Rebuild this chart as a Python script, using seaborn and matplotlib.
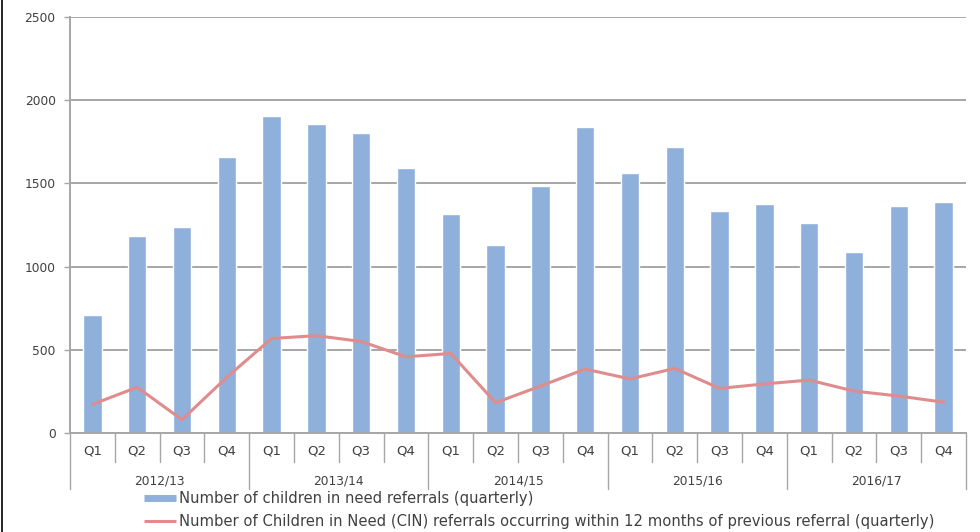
import matplotlib
matplotlib.use("Agg")
import matplotlib.pyplot as plt
import matplotlib.transforms as mtransforms
from matplotlib.lines import Line2D
import seaborn as sns
import pandas as pd

# ---- data ----
years = ["2012/13", "2013/14", "2014/15", "2015/16", "2016/17"]
quarters = ["Q1", "Q2", "Q3", "Q4"]
referrals = [710, 1186, 1235, 1660,
             1906, 1857, 1804, 1590,
             1316, 1130, 1482, 1836,
             1562, 1718, 1334, 1376,
             1262, 1089, 1367, 1390]
re_referrals = [172, 275, 80, 335,
                568, 585, 550, 458,
                478, 182, 282, 384,
                325, 388, 268, 295,
                318, 252, 222, 185]
bar_label = "Number of children in need referrals (quarterly)"
line_label = ("Number of Children in Need (CIN) referrals occurring within 12 months "
              "of previous referral (quarterly)")

n = len(referrals)
df = pd.DataFrame({
    "idx": list(range(n)),
    "quarter": [q for _ in years for q in quarters],
    "referrals": referrals,
    "re_referrals": re_referrals,
})

sns.set_theme(style="white")
plt.rcParams["font.family"] = ["DejaVu Sans"]

W, H = 980, 532
fig = plt.figure(figsize=(W / 100, H / 100), dpi=100)
left, right, top, bottom = 70, 966, 17, 433
ax = fig.add_axes([left / W, 1 - bottom / H, (right - left) / W, (bottom - top) / H])

bar_color = "#8EB0DA"
line_color = "#E08C8C"
grid_color = "#A6A6A6"
text_color = "#404040"

sns.barplot(data=df, x="idx", y="referrals", color=bar_color, width=0.41,
            saturation=1, ax=ax, zorder=2, order=list(range(n)))
sns.lineplot(data=df, x="idx", y="re_referrals", color=line_color, linewidth=2.2,
             ax=ax, zorder=3)

ax.set_xlim(-0.5, n - 0.5)
ax.set_ylim(0, 2500)
ax.set_yticks([0, 500, 1000, 1500, 2000, 2500])
ax.set_yticklabels(["0", "500", "1000", "1500", "2000", "2500"])
ax.yaxis.grid(True, color=grid_color, linewidth=1.4, zorder=0)
ax.set_axisbelow(True)
ax.set_xlabel("")
ax.set_ylabel("")
ax.tick_params(axis="y", length=4.3, width=1.0, color=grid_color, pad=6,
               labelsize=8.8, labelcolor=text_color, left=True)
ax.set_xticks(range(n))
ax.set_xticklabels(df["quarter"])
ax.tick_params(axis="x", length=0, pad=8, labelsize=9.5, labelcolor=text_color)

for s in ["top", "right"]:
    ax.spines[s].set_visible(False)
ax.spines["left"].set_color(grid_color)
ax.spines["left"].set_linewidth(1.4)
ax.spines["bottom"].set_color(grid_color)
ax.spines["bottom"].set_linewidth(1.4)

# category separators
trans = mtransforms.blended_transform_factory(ax.transData, ax.transAxes)
q_depth = -(462 - bottom) / (bottom - top)
y_depth = -(489 - bottom) / (bottom - top)
for k in range(n + 1):
    xb = k - 0.5
    d = y_depth if k % 4 == 0 else q_depth
    ax.plot([xb, xb], [0, d], transform=trans, color=grid_color, linewidth=1.0,
            clip_on=False, zorder=1)
ylab = -(481 - bottom) / (bottom - top)
for i, yr in enumerate(years):
    ax.text(i * 4 + 1.5, ylab, yr, transform=trans, ha="center", va="center",
            fontsize=8.8, color=text_color)

# legend
handles = [Line2D([0], [0], color=bar_color, linewidth=5, solid_capstyle="butt"),
           Line2D([0], [0], color=line_color, linewidth=2.2, solid_capstyle="butt")]
fig.legend(handles, [bar_label, line_label], loc="upper left",
           bbox_to_anchor=(144 / W, 1 - 491 / H), frameon=False, fontsize=10.6,
           handlelength=2.2, handletextpad=0.2, labelspacing=0.55,
           borderaxespad=0, borderpad=0, labelcolor=text_color)

# left border of the picture
fig.add_artist(Line2D([2 / W, 2 / W], [0, 1], color="black", linewidth=1.2,
                      transform=fig.transFigure))

fig.savefig("out.png", dpi=100)
